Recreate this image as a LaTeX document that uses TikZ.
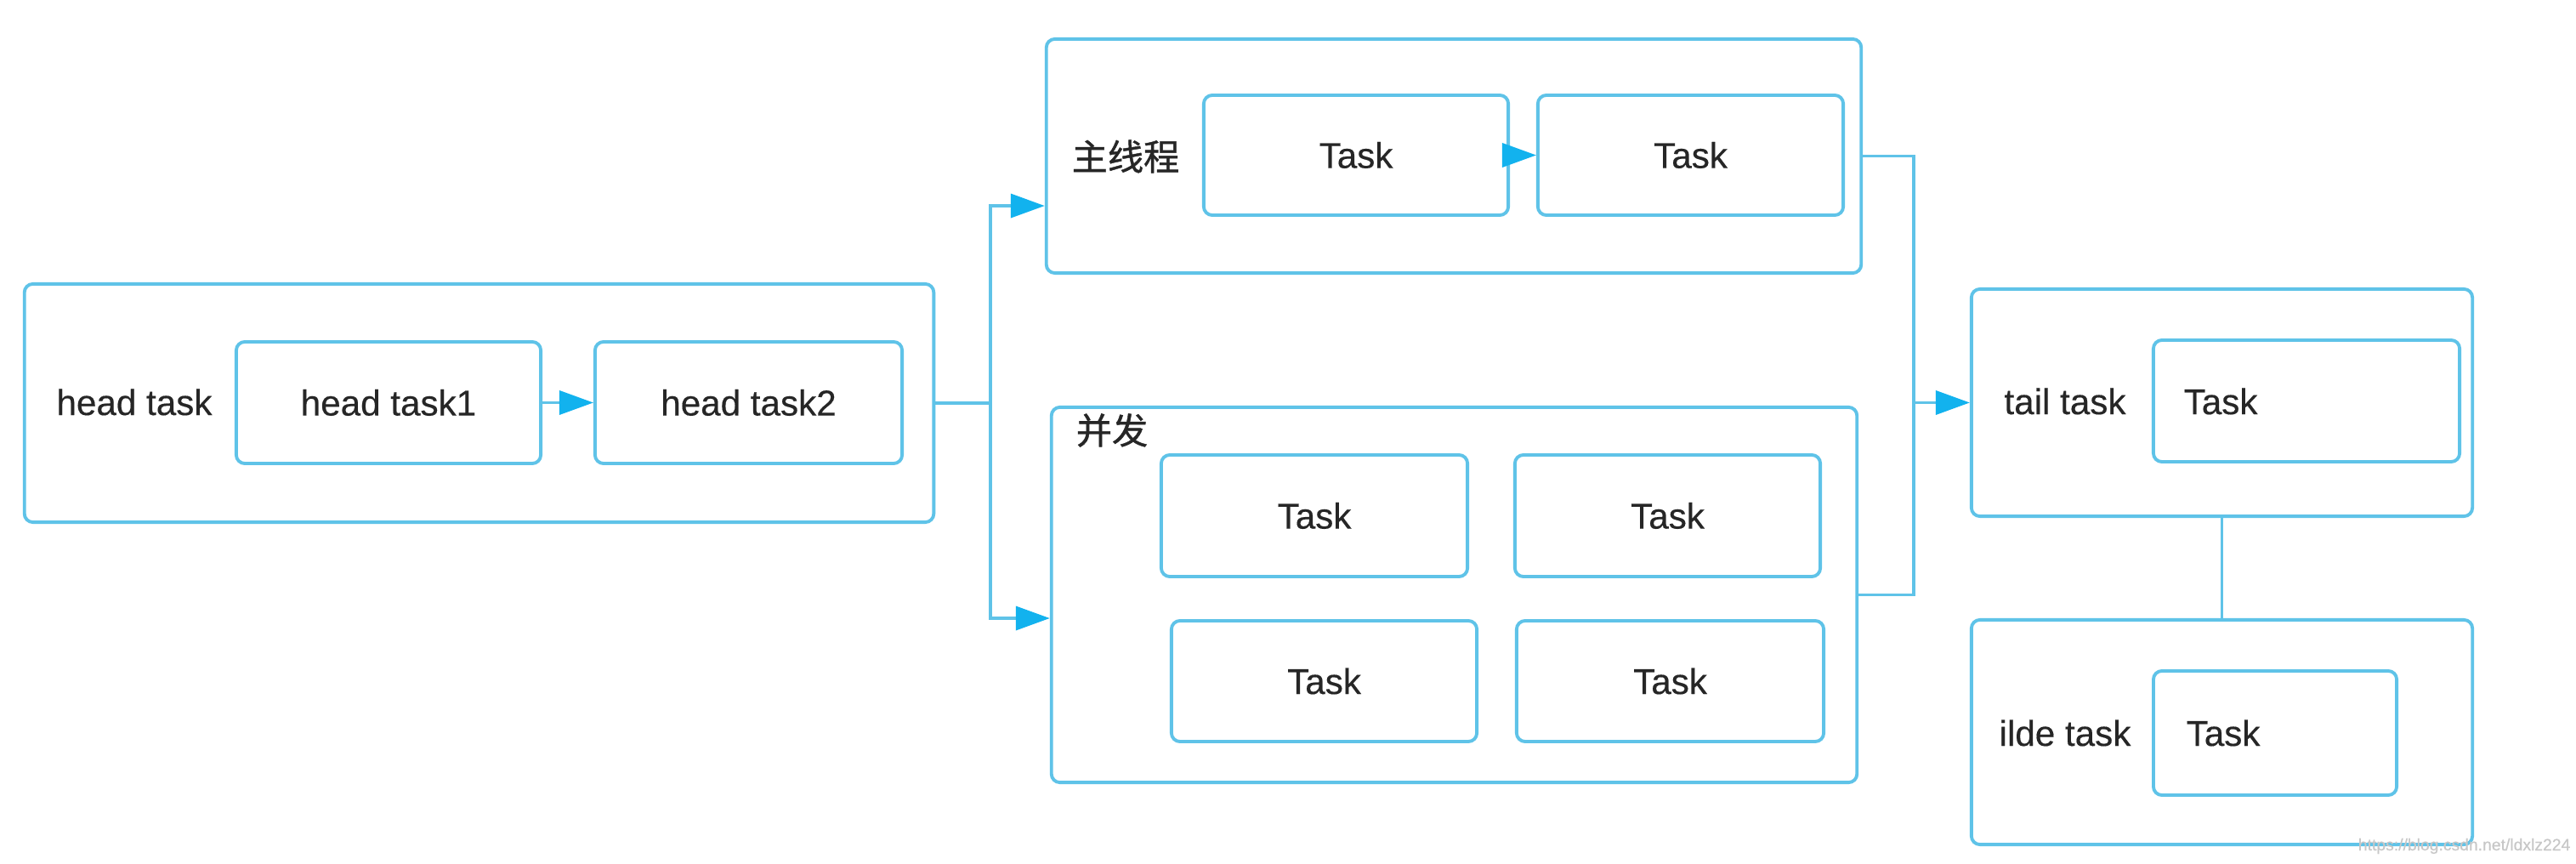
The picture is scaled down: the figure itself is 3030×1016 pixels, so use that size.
\documentclass[tikz,border=0pt]{standalone}
\usepackage{fontspec}
\setmainfont{Liberation Sans}[FakeBold=0.3]
\newfontfamily\cjk{Noto Sans CJK SC}[FakeBold=1]
\usetikzlibrary{arrows.meta}
\definecolor{boxblue}{RGB}{95,195,232}
\definecolor{tipblue}{RGB}{18,178,238}
\definecolor{txtgray}{RGB}{38,38,38}
\begin{document}
\begin{tikzpicture}[x=0.01cm,y=-0.01cm,
  box/.style={draw=boxblue, line width=1.1pt, rounded corners=0.1cm, rectangle, inner sep=0pt, fill=white},
  lbl/.style={text=txtgray, font=\fontsize{12}{14}\selectfont, inner sep=0pt},
  conn/.style={draw=boxblue, line width=1pt},
  arr/.style={conn, -{Triangle[length=0.4cm,width=0.28cm,color=tipblue]}}
]
\useasboundingbox[fill=white] (0,0) rectangle (3030,1016);

% head task
\node[box, minimum width=10.69cm, minimum height=2.80cm] (headOuter) at (563.5,474) {};
\node[lbl] (headLbl) at (158,473) {head task};
\node[box, minimum width=3.58cm, minimum height=1.43cm] (h1) at (457,473.5) {};
\node[lbl] (h1t) at (h1) {head task1};
\node[box, minimum width=3.61cm, minimum height=1.43cm] (h2) at (880.5,473.5) {};
\node[lbl] (h2t) at (h2) {head task2};

% main thread
\node[box, minimum width=9.58cm, minimum height=2.75cm] (mainOuter) at (1710,183.5) {};
\node[lbl] (mainLbl) at (1324,184) {\cjk 主线程};
\node[box, minimum width=3.58cm, minimum height=1.41cm] (m1) at (1595,182.5) {};
\node[lbl] (m1t) at (m1) {Task};
\node[box, minimum width=3.59cm, minimum height=1.41cm] (m2) at (1988.5,182.5) {};
\node[lbl] (m2t) at (m2) {Task};

% concurrent
\node[box, minimum width=9.47cm, minimum height=4.41cm] (concOuter) at (1710.5,699.5) {};
\node[lbl] (concLbl) at (1308,506) {\cjk 并发};
\node[box, minimum width=3.60cm, minimum height=1.43cm] (c1) at (1546,606.5) {};
\node[lbl] (c1t) at (c1) {Task};
\node[box, minimum width=3.59cm, minimum height=1.43cm] (c2) at (1961.5,606.5) {};
\node[lbl] (c2t) at (c2) {Task};
\node[box, minimum width=3.59cm, minimum height=1.42cm] (c3) at (1557.5,801) {};
\node[lbl] (c3t) at (c3) {Task};
\node[box, minimum width=3.61cm, minimum height=1.42cm] (c4) at (1964.5,801) {};
\node[lbl] (c4t) at (c4) {Task};

% tail
\node[box, minimum width=5.89cm, minimum height=2.67cm] (tailOuter) at (2613.5,473.5) {};
\node[lbl] (tailLbl) at (2429,472) {tail task};
\node[box, minimum width=3.60cm, minimum height=1.43cm] (t1) at (2713,471.5) {};
\node[lbl] (t1t) at (2612,472) {Task};

% idle
\node[box, minimum width=5.89cm, minimum height=2.64cm] (idleOuter) at (2613.5,861) {};
\node[lbl] (idleLbl) at (2429,862) {ilde task};
\node[box, minimum width=2.86cm, minimum height=1.46cm] (i1) at (2676,862) {};
\node[lbl] (i1t) at (2615,862) {Task};

% connectors
\draw[arr] (h1) -- (h2);
\draw[arr] (m1) -- (m2);

\coordinate (jl) at (1165,474);
\draw[conn] (headOuter.east) -- (jl);
\draw[arr] (jl) |- ([yshift=-0.585cm]mainOuter.west);
\draw[arr] (jl) |- ([yshift=-0.275cm]concOuter.west);

\coordinate (jr) at (2251,473.5);
\draw[conn] (mainOuter.east) -| (jr);
\draw[conn] (concOuter.east) -| (jr);
\draw[arr] (jr) -- (tailOuter.west);

\draw[conn] (tailOuter.south) -- (idleOuter.north);

\node[font=\fontsize{5.5}{6}\selectfont, text=black!22, anchor=east, inner sep=0pt] (wm) at (3024,995) {https://blog.csdn.net/ldxlz224};
\end{tikzpicture}
\end{document}
